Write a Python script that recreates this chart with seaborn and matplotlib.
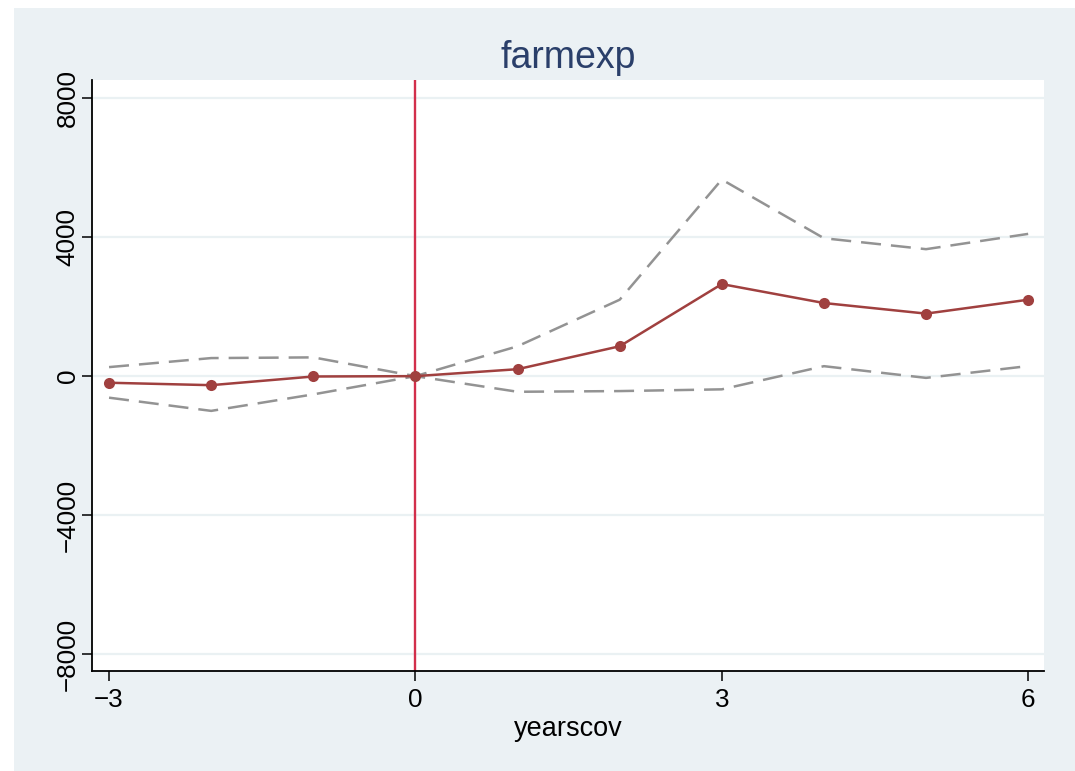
import matplotlib
matplotlib.use("Agg")
import matplotlib.pyplot as plt
import seaborn as sns
import pandas as pd
from matplotlib.patches import Rectangle

years = [-3, -2, -1, 0, 1, 2, 3, 4, 5, 6]
estimate = [-190, -260, -10, 0, 200, 860, 2650, 2105, 1800, 2200]
upper = [260, 520, 540, 0, 860, 2200, 5660, 3970, 3655, 4095]
lower = [-620, -1000, -525, 0, -450, -430, -380, 287, -50, 290]
yticks = [-8000, -4000, 0, 4000, 8000]
xticks = [-3, 0, 3, 6]

sns.set_theme(style="white")
plt.rcParams['font.family'] = ['Liberation Sans', 'DejaVu Sans']

W, H = 1075, 771
fig = plt.figure(figsize=(W / 100, H / 100), dpi=100)
fig.patch.set_facecolor("white")
bg = "#EBF1F4"
fig.patches.append(Rectangle((14 / W, 0), 1 - 14 / W, 1 - 8 / H, transform=fig.transFigure,
                             facecolor=bg, edgecolor="none", zorder=-10))

ax = fig.add_axes([92 / W, (H - 671) / H, (1044 - 92) / W, (671 - 80) / H])
ax.set_facecolor("white")

df = pd.DataFrame({"yearscov": years, "est": estimate, "hi": upper, "lo": lower})

ax.set_ylim(-8488, 8525)
ax.set_xlim(-3.167, 6.155)
ax.set_yticks(yticks)
ax.set_xticks(xticks)
for y in yticks:
    ax.axhline(y, color="#EAF1F3", lw=1.6, zorder=0)

ax.axvline(0, color="#D22F4B", lw=1.7, zorder=1)

sns.lineplot(data=df, x="yearscov", y="hi", ax=ax, color="#939393", lw=1.8,
             linestyle=(0, (8, 4)), zorder=2)
sns.lineplot(data=df, x="yearscov", y="lo", ax=ax, color="#939393", lw=1.8,
             linestyle=(0, (8, 4)), zorder=2)
sns.lineplot(data=df, x="yearscov", y="est", ax=ax, color="#A0403F", lw=1.8,
             marker="o", markersize=8, markeredgewidth=0, zorder=3)

for s in ["top", "right"]:
    ax.spines[s].set_visible(False)
for s in ["left", "bottom"]:
    ax.spines[s].set_color("black")
    ax.spines[s].set_linewidth(1.3)

ax.tick_params(axis="both", direction="out", length=7, width=1.1, color="black",
               labelsize=18.7, labelcolor="black", bottom=True, left=True)
ax.tick_params(axis="x", pad=5)
ax.tick_params(axis="y", pad=2)
ax.set_yticklabels([f"{v}".replace("-", "\u2212") for v in yticks], rotation=90, va="center")
ax.set_xticklabels([f"{v}".replace("-", "\u2212") for v in xticks])
ax.set_xlabel("yearscov", fontsize=19.5, color="black", labelpad=3)
ax.set_ylabel("")
ax.set_title("farmexp", fontsize=27, color="#2A3F6A", pad=9)
ax.grid(False)

fig.savefig("out.png", dpi=100, facecolor=fig.get_facecolor())
